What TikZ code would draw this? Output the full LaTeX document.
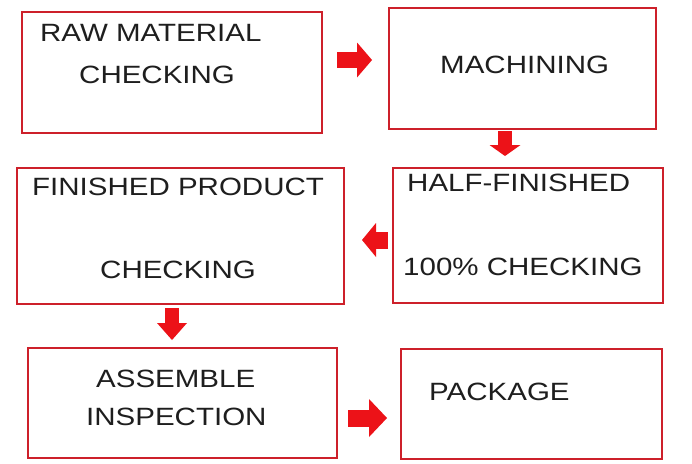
\documentclass[tikz,border=0pt]{standalone}
\usepackage{fontspec}
\usepackage{graphicx}
\setmainfont{Liberation Sans}
\usetikzlibrary{arrows.meta}
\definecolor{boxred}{RGB}{205,32,42}
\definecolor{arrowred}{RGB}{236,18,24}
\definecolor{txt}{RGB}{30,30,30}
\newcommand{\wide}[1]{\scalebox{1.18}[1]{#1}}
\begin{document}
\begin{tikzpicture}[x=1pt,y=-1pt,
  box/.style={draw=boxred, line width=2pt, rectangle, anchor=north west, inner sep=0pt, fill=white},
  lbl/.style={anchor=base west, inner sep=0pt, text=txt, font=\fontsize{25}{30}\selectfont},
  blockarr/.style n args={3}{draw=arrowred, line width=#1, -{Triangle[width=#2,length=#3,line width=0pt]}}]
\useasboundingbox[fill=white] (0,0) rectangle (692,463);
% boxes
\node[box, minimum width=300pt, minimum height=121pt] (b1) at (21,11) {};
\node[box, minimum width=267pt, minimum height=121pt] (b2) at (388,7) {};
\node[box, minimum width=327pt, minimum height=136pt] (b3) at (16,167) {};
\node[box, minimum width=270pt, minimum height=135pt] (b4) at (392,167) {};
\node[box, minimum width=309pt, minimum height=110pt] (b5) at (27,347) {};
\node[box, minimum width=261pt, minimum height=110pt] (b6) at (400,348) {};
% texts
\node[lbl] (t1a) at (40,41) {\wide{RAW MATERIAL}};
\node[lbl] (t1b) at (79,83) {\wide{CHECKING}};
\node[lbl] (t2) at (440,73) {\wide{MACHINING}};
\node[lbl] (t3a) at (32,195) {\wide{FINISHED PRODUCT}};
\node[lbl] (t3b) at (100,278) {\wide{CHECKING}};
\node[lbl] (t4a) at (407,191) {\wide{HALF-FINISHED}};
\node[lbl] (t4b) at (403,275) {\wide{100\% CHECKING}};
\node[lbl] (t5a) at (96,387) {\wide{ASSEMBLE}};
\node[lbl] (t5b) at (86,425) {\wide{INSPECTION}};
\node[lbl] (t6) at (429,400) {\wide{PACKAGE}};
% arrow end points
\coordinate (a1s) at (337,60);  \coordinate (a1e) at (372,60);
\coordinate (a2s) at (505,131); \coordinate (a2e) at (505,156);
\coordinate (a3s) at (388,240); \coordinate (a3e) at (362,240);
\coordinate (a4s) at (172,308); \coordinate (a4e) at (172,340);
\coordinate (a5s) at (348,418); \coordinate (a5e) at (387,418);
% arrows
\draw[blockarr={16pt}{35pt}{15pt}] (a1s) -- (a1e);
\draw[blockarr={14pt}{31pt}{11pt}] (a2s) -- (a2e);
\draw[blockarr={17pt}{34pt}{14pt}] (a3s) -- (a3e);
\draw[blockarr={14pt}{30pt}{17pt}] (a4s) -- (a4e);
\draw[blockarr={17pt}{38pt}{18pt}] (a5s) -- (a5e);
\end{tikzpicture}
\end{document}
